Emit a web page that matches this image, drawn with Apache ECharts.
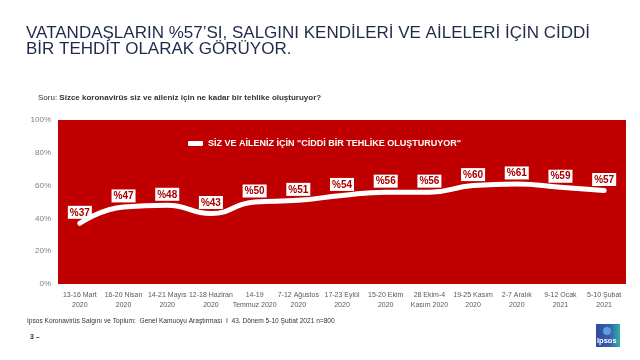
<!DOCTYPE html>
<html><head><meta charset="utf-8">
<script src="https://cdn.jsdelivr.net/npm/echarts@6/dist/echarts.min.js"></script>
<style>html,body{margin:0;padding:0;background:#fff}#c{width:640px;height:360px}</style>
</head><body><div id="c"></div>
<script>
const categories = ['13-16 Mart\n2020','16-20 Nisan\n2020','14-21 Mayıs\n2020','12-18 Haziran\n2020','14-19\nTemmuz 2020','7-12 Ağustos\n2020','17-23 Eylül\n2020','15-20 Ekim\n2020','28 Ekim-4\nKasım 2020','19-25 Kasım\n2020','2-7 Aralık\n2020','9-12 Ocak\n2021','5-10 Şubat\n2021'];
const values = [37,47,48,43,50,51,54,56,56,60,61,59,57];
const seriesName = 'SİZ VE AİLENİZ İÇİN "CİDDİ BİR TEHLİKE OLUŞTURUYOR"';
const titleLines = ['VATANDAŞLARIN %57’SI, SALGINI KENDİLERİ VE AİLELERİ İÇİN CİDDİ','BİR TEHDİT OLARAK GÖRÜYOR.'];
const chart = echarts.init(document.getElementById('c'));
chart.setOption({
  animation:false,
  textStyle:{fontFamily:'Liberation Sans, Arial, sans-serif'},
  grid:{left:58,right:14,top:120,bottom:76,show:true,backgroundColor:'#C00000',borderWidth:0},
  legend:{data:[{name:seriesName,icon:'roundRect'}],left:183,top:134,itemWidth:15,itemHeight:5,itemGap:2,
    textStyle:{color:'#fff',fontWeight:'bold',fontSize:9}},
  xAxis:{type:'category',data:categories,boundaryGap:true,axisLine:{show:false},axisTick:{show:false},
    axisLabel:{color:'#595959',fontSize:7,lineHeight:10,margin:6,interval:0}},
  yAxis:{type:'value',min:0,max:100,interval:20,splitLine:{show:false},axisLine:{show:false},axisTick:{show:false},
    axisLabel:{formatter:'{value}%',color:'#7f7f7f',fontSize:8,margin:7}},
  series:[{name:seriesName,type:'line',data:values,smooth:0.5,symbol:'circle',symbolSize:1,showSymbol:true,
    lineStyle:{color:'#fff',width:5,cap:'round'},itemStyle:{color:'#fff'},
    label:{show:true,position:'top',distance:4,formatter:'%{c}',backgroundColor:'#fff',color:'#A80000',
      fontWeight:'bold',fontSize:10,padding:[2,2,1,2]},labelLayout:{hideOverlap:false}}],
  graphic:[
    {type:'text',left:26,top:25,style:{text:titleLines.join('\n'),fontSize:17,lineHeight:16,fill:'#1F2A4C',fontFamily:'Liberation Sans, Arial, sans-serif'}},
    {type:'text',left:38,top:94,style:{rich:{a:{fontSize:8,fill:'#333'},b:{fontSize:8,fontWeight:'bold',fill:'#333'}},text:'{a|Soru: }{b|Sizce koronavirüs siz ve aileniz için ne kadar bir tehlike oluşturuyor?}'}},
    {type:'text',left:27,top:318,style:{text:'Ipsos Koronavirüs Salgını ve Toplum:  Genel Kamuoyu Araştırması  I  43. Dönem 5-10 Şubat 2021 n=800',fontSize:6.6,fill:'#333'}},
    {type:'text',left:30,top:334,style:{text:'3 –',fontSize:7,fontWeight:'bold',fill:'#333'}},
    {type:'rect',shape:{x:596,y:324,width:24,height:23},style:{fill:new echarts.graphic.LinearGradient(0,0,1,0,[{offset:0,color:'#2f4aa0'},{offset:0.6,color:'#3b5fb0'},{offset:1,color:'#2bb3a0'}])}},
    {type:'circle',shape:{cx:607,cy:331,r:4},style:{fill:'#5aa0d8'}},
    {type:'text',left:597,top:337,style:{text:'Ipsos',fontSize:7.5,fontWeight:'bold',fill:'#fff'}}
  ]
});
</script></body></html>
